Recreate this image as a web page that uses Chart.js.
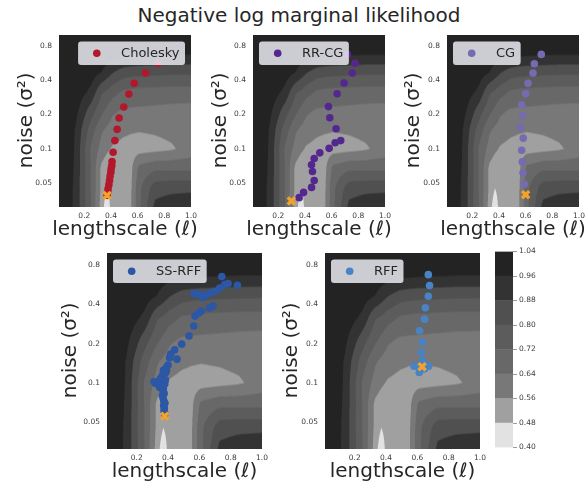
<!DOCTYPE html>
<html lang="en">
<head>
<meta charset="UTF-8">
<title>Negative log marginal likelihood</title>
<script src="https://cdn.jsdelivr.net/npm/chart.js"></script>
<style>
    body { margin: 0; background: #fff; }
    #fig { position: relative; width: 586px; height: 482px; overflow: hidden; font-family: 'DejaVu Sans', sans-serif; }
    #fig canvas { position: absolute; }
    #title { position: absolute; left: 0; top: 3px; width: 598px; text-align: center; font-size: 20px; line-height: 24px; color: #262626; }
</style>
</head>
<body>
<div id="fig">
    <div id="title">Negative log marginal likelihood</div>
    <canvas id="p1"></canvas>
    <canvas id="p2"></canvas>
    <canvas id="p3"></canvas>
    <canvas id="p4"></canvas>
    <canvas id="p5"></canvas>
    <canvas id="cbar"></canvas>
</div>

<script>
// loss surface (rows = noise from bottom to top, cols = lengthscale)
const lengthscaleGrid = [0.01, 0.13, 0.25, 0.33, 0.37, 0.41, 0.49, 0.55, 0.61, 0.73, 0.85, 1.0];
const noiseGrid = [0.0316, 0.0464, 0.0681, 0.1, 0.1468, 0.2154, 0.3162, 0.4642, 0.6813, 1.0];
const nlmlGrid = [
    [1.03, 0.948, 0.72, 0.523, 0.42, 0.53, 0.53, 0.555, 0.70, 0.90, 0.93, 0.95],
    [1.03, 0.949, 0.715, 0.54, 0.485, 0.52, 0.525, 0.55, 0.70, 0.84, 0.85, 0.85],
    [1.03, 0.953, 0.715, 0.54, 0.51, 0.51, 0.515, 0.54, 0.66, 0.70, 0.70, 0.70],
    [1.03, 0.956, 0.71, 0.61, 0.575, 0.55, 0.53, 0.525, 0.525, 0.535, 0.55, 0.59],
    [1.03, 0.959, 0.76, 0.65, 0.625, 0.605, 0.58, 0.57, 0.565, 0.57, 0.58, 0.60],
    [1.03, 0.99, 0.84, 0.74, 0.70, 0.655, 0.63, 0.627, 0.625, 0.62, 0.615, 0.61],
    [1.03, 1.02, 0.94, 0.81, 0.79, 0.755, 0.71, 0.70, 0.695, 0.69, 0.685, 0.685],
    [1.03, 1.03, 1.0, 0.958, 0.92, 0.885, 0.84, 0.83, 0.825, 0.82, 0.815, 0.814],
    [1.03, 1.03, 1.03, 1.02, 1.01, 1.0, 0.99, 0.985, 0.98, 0.975, 0.97, 0.97],
    [1.03, 1.03, 1.03, 1.03, 1.03, 1.03, 1.03, 1.03, 1.03, 1.03, 1.03, 1.03]
];
const levels = [0.40, 0.48, 0.56, 0.64, 0.72, 0.80, 0.88, 0.96, 1.04];
const levelColors = ['#e2e2e2', '#a0a0a0', '#787878', '#686868', '#5c5c5c', '#505050', '#333333', '#232323'];

const xTicks = [0.2, 0.4, 0.6, 0.8, 1.0];
const yTicks = [0.05, 0.1, 0.2, 0.4, 0.8];
const xTitle = 'lengthscale (\u2113)';
const yTitle = 'noise (\u03c3\u00b2)';

// optimisation paths
const choleskyX = [0.752, 0.659, 0.574, 0.534, 0.496, 0.461, 0.446, 0.429, 0.416, 0.408, 0.406, 0.401, 0.399, 0.393, 0.389, 0.384, 0.378, 0.376, 0.371];
const choleskyY = [0.560, 0.461, 0.375, 0.301, 0.232, 0.186, 0.148, 0.118, 0.0933, 0.0774, 0.0715, 0.0669, 0.0625, 0.0577, 0.0529, 0.0486, 0.0448, 0.0419, 0.0392];
const choleskyOpt = [0.371, 0.0392];

const rrcgX = [0.718, 0.776, 0.755, 0.693, 0.641, 0.576, 0.586, 0.633, 0.668, 0.626, 0.581, 0.511, 0.469, 0.449, 0.456, 0.469, 0.449, 0.389, 0.356];
const rrcgY = [0.670, 0.560, 0.461, 0.377, 0.303, 0.234, 0.187, 0.150, 0.118, 0.113, 0.101, 0.0922, 0.0823, 0.0725, 0.0634, 0.0529, 0.0460, 0.0416, 0.0374];
const rrcgOpt = [0.297, 0.035];

const cgX = [0.717, 0.665, 0.655, 0.618, 0.600, 0.570, 0.577, 0.562, 0.582, 0.570, 0.575, 0.580, 0.590];
const cgY = [0.670, 0.555, 0.461, 0.375, 0.303, 0.243, 0.195, 0.154, 0.124, 0.0971, 0.0769, 0.0618, 0.0492];
const cgOpt = [0.600, 0.0397];

const ssrffX = [0.743, 0.843, 0.783, 0.762, 0.730, 0.700, 0.674, 0.645, 0.615, 0.589, 0.566, 0.623, 0.687, 0.666, 0.613, 0.598, 0.572, 0.564, 0.534, 0.487, 0.442, 0.417, 0.410, 0.457, 0.400, 0.389, 0.385, 0.372, 0.357, 0.321, 0.335, 0.347, 0.368, 0.379, 0.364, 0.372, 0.372, 0.374, 0.379, 0.370, 0.365, 0.360, 0.370, 0.375, 0.368, 0.380, 0.376, 0.383, 0.390, 0.310, 0.350];
const ssrffY = [0.653, 0.560, 0.577, 0.567, 0.534, 0.504, 0.490, 0.476, 0.470, 0.481, 0.484, 0.449, 0.388, 0.376, 0.355, 0.344, 0.325, 0.273, 0.229, 0.198, 0.179, 0.166, 0.156, 0.152, 0.137, 0.131, 0.120, 0.110, 0.104, 0.099, 0.100, 0.092, 0.087, 0.098, 0.080, 0.073, 0.067, 0.061, 0.058, 0.125, 0.115, 0.095, 0.090, 0.083, 0.077, 0.070, 0.064, 0.105, 0.125, 0.102, 0.108];
const ssrffOpt = [0.379, 0.0555];

const rffX = [0.670, 0.678, 0.670, 0.651, 0.646, 0.614, 0.633, 0.625, 0.633, 0.578, 0.601, 0.672, 0.655, 0.612, 0.620, 0.645, 0.630];
const rffY = [0.676, 0.557, 0.462, 0.376, 0.308, 0.251, 0.205, 0.171, 0.148, 0.134, 0.134, 0.134, 0.134, 0.120, 0.126, 0.128, 0.140];
const rffOpt = [0.630, 0.133];

Chart.defaults.font.family = "'DejaVu Sans', sans-serif";

const logNoise = noiseGrid.map(v => Math.log10(v));
const greys = levelColors.map(c => parseInt(c.slice(1, 3), 16));
const dotRadius = 3.8;

// bilinear value of the surface (log space for noise)
function sampleSurface(xv, ly) {
    const gx = lengthscaleGrid, gy = logNoise;
    let i = 0;
    while (i < gx.length - 2 && xv > gx[i + 1]) i++;
    let j = 0;
    while (j < gy.length - 2 && ly > gy[j + 1]) j++;
    const t = Math.min(1, Math.max(0, (xv - gx[i]) / (gx[i + 1] - gx[i])));
    const s = Math.min(1, Math.max(0, (ly - gy[j]) / (gy[j + 1] - gy[j])));
    const lo = nlmlGrid[j][i] * (1 - t) + nlmlGrid[j][i + 1] * t;
    const hi = nlmlGrid[j + 1][i] * (1 - t) + nlmlGrid[j + 1][i + 1] * t;
    return lo * (1 - s) + hi * s;
}

function bandGrey(z) {
    let k = 0;
    while (k < greys.length - 1 && z >= levels[k + 1]) k++;
    return greys[k];
}

function drawSurface(chart) {
    const {ctx, chartArea: a, scales} = chart;
    const w = Math.round(a.right - a.left), h = Math.round(a.bottom - a.top);
    const off = document.createElement('canvas');
    off.width = w; off.height = h;
    const octx = off.getContext('2d');
    const img = octx.createImageData(w, h);
    const ss = 3;
    for (let py = 0; py < h; py++) {
        for (let px = 0; px < w; px++) {
            let g = 0;
            for (let sy = 0; sy < ss; sy++) {
                const yv = scales.y.getValueForPixel(a.top + py + (sy + 0.5) / ss);
                for (let sx = 0; sx < ss; sx++) {
                    const xv = scales.x.getValueForPixel(a.left + px + (sx + 0.5) / ss);
                    g += bandGrey(sampleSurface(xv, Math.log10(yv)));
                }
            }
            g /= ss * ss;
            const k = 4 * (py * w + px);
            img.data[k] = img.data[k + 1] = img.data[k + 2] = g;
            img.data[k + 3] = 255;
        }
    }
    octx.putImageData(img, 0, 0);
    ctx.drawImage(off, a.left, a.top);
}

function drawLegendBox(chart, o) {
    const {ctx, chartArea: a} = chart;
    ctx.save();
    ctx.font = "13px 'DejaVu Sans'";
    const tw = ctx.measureText(o.label).width;
    const bw = 43 + tw + 5.5, bh = 23.5;
    const bx = o.legendRight ? a.right - 6 - bw : a.left + 6;
    const by = a.top + 7;
    ctx.fillStyle = 'rgba(234,234,242,0.85)';
    ctx.beginPath();
    ctx.roundRect(bx, by, bw, bh, 3);
    ctx.fill();
    ctx.fillStyle = o.color;
    ctx.beginPath();
    ctx.arc(bx + 18.7, by + bh / 2, dotRadius, 0, 2 * Math.PI);
    ctx.fill();
    ctx.fillStyle = '#262626';
    ctx.textBaseline = 'middle';
    ctx.fillText(o.label, bx + 43, by + bh / 2 + 0.5);
    ctx.restore();
}

function drawAxisTitles(chart, o) {
    const {ctx, chartArea: a} = chart;
    ctx.save();
    ctx.fillStyle = '#262626';
    ctx.font = "20px 'DejaVu Sans'";
    ctx.textAlign = 'center';
    ctx.textBaseline = 'alphabetic';
    ctx.fillText(xTitle, (a.left + a.right) / 2, a.bottom + 28.5);
    ctx.translate(a.left - o.yOff, (a.top + a.bottom) / 2);
    ctx.rotate(-Math.PI / 2);
    ctx.fillText(yTitle, 0, 0);
    ctx.restore();
}

const decor = {
    id: 'decor',
    beforeDatasetsDraw(chart) { drawSurface(chart); },
    afterDatasetsDraw(chart, args, o) { drawLegendBox(chart, o); },
    afterDraw(chart, args, o) { drawAxisTitles(chart, o); }
};

const tickFont = {size: 7.5};
const tickColor = '#3d3d3d';

function makePanel(p) {
    const cv = document.getElementById(p.id);
    const [L, T, W, H] = p.box;
    const padL = 58, padT = 10, padR = 14, padB = 40;
    cv.width = W + padL + padR;
    cv.height = H + padT + padB;
    cv.style.left = (L - padL) + 'px';
    cv.style.top = (T - padT) + 'px';

    new Chart(cv, {
        type: 'scatter',
        data: {
            datasets: [
                {
                    data: [{x: p.opt[0], y: p.opt[1]}],
                    pointStyle: 'crossRot',
                    pointRadius: 5,
                    pointBorderWidth: 3.3,
                    pointBorderColor: '#f4a32a',
                    pointBackgroundColor: '#f4a32a'
                },
                {
                    data: p.xs.map((x, i) => ({x: x, y: p.ys[i]})),
                    pointRadius: dotRadius,
                    pointBorderWidth: 0,
                    pointBackgroundColor: p.color
                }
            ]
        },
        options: {
            responsive: false,
            animation: false,
            devicePixelRatio: 1,
            layout: {padding: {left: 0, top: padT, right: padR, bottom: 0}},
            plugins: {
                legend: {display: false},
                tooltip: {enabled: false},
                decor: {label: p.label, color: p.color, legendRight: p.legendRight, yOff: p.yOff}
            },
            scales: {
                x: {
                    type: 'linear', min: 0.01, max: 1.0,
                    afterBuildTicks: ax => { ax.ticks = xTicks.map(v => ({value: v})); },
                    afterFit: ax => { ax.height = padB; },
                    grid: {display: false, drawTicks: false},
                    border: {display: false},
                    ticks: {padding: 6, font: tickFont, color: tickColor, maxRotation: 0, autoSkip: false,
                            callback: v => Number(v).toFixed(1)}
                },
                y: {
                    type: 'logarithmic', min: 0.031623, max: 1.0,
                    afterBuildTicks: ax => { ax.ticks = yTicks.map(v => ({value: v})); },
                    afterFit: ax => { ax.width = padL; },
                    grid: {display: false, drawTicks: false},
                    border: {display: false},
                    ticks: {padding: 7, font: tickFont, color: tickColor, autoSkip: false,
                            callback: v => String(v)}
                }
            }
        },
        plugins: [decor]
    });
}

const panels = [
    {id: 'p1', label: 'Cholesky', color: '#b2182b', xs: choleskyX, ys: choleskyY, opt: choleskyOpt, box: [59, 33, 132, 173], legendRight: true, yOff: 27},
    {id: 'p2', label: 'RR-CG', color: '#54278f', xs: rrcgX, ys: rrcgY, opt: rrcgOpt, box: [253, 33, 132, 173], legendRight: false, yOff: 27.5},
    {id: 'p3', label: 'CG', color: '#756bb1', xs: cgX, ys: cgY, opt: cgOpt, box: [447, 33, 132, 173], legendRight: false, yOff: 28.5},
    {id: 'p4', label: 'SS-RFF', color: '#2c57a5', xs: ssrffX, ys: ssrffY, opt: ssrffOpt, box: [107, 251, 155, 197], legendRight: false, yOff: 31},
    {id: 'p5', label: 'RFF', color: '#4a83c5', xs: rffX, ys: rffY, opt: rffOpt, box: [325, 251, 155, 197], legendRight: false, yOff: 28}
];
panels.forEach(makePanel);

// colour bar
const cb = document.getElementById('cbar');
cb.width = 48; cb.height = 209;
cb.style.left = '495px'; cb.style.top = '245px';
new Chart(cb, {
    type: 'bar',
    data: {
        labels: [''],
        datasets: levelColors.map((c, i) => ({
            data: [[levels[i], levels[i + 1]]],
            backgroundColor: c,
            borderWidth: 0,
            barPercentage: 1,
            categoryPercentage: 1,
            grouped: false
        }))
    },
    options: {
        responsive: false,
        animation: false,
        devicePixelRatio: 1,
        layout: {padding: {top: 6, bottom: 6, left: 0, right: 0}},
        plugins: {legend: {display: false}, tooltip: {enabled: false}},
        scales: {
            x: {display: false},
            y: {
                position: 'right', min: 0.40, max: 1.04,
                afterBuildTicks: ax => { ax.ticks = levels.map(v => ({value: v})); },
                afterFit: ax => { ax.width = 30; },
                grid: {drawOnChartArea: false, drawTicks: true, tickLength: 4, color: '#9a9a9a'},
                border: {display: false},
                ticks: {padding: 2, font: tickFont, color: tickColor, callback: v => Number(v).toFixed(2)}
            }
        }
    }
});
</script>
</body>
</html>
